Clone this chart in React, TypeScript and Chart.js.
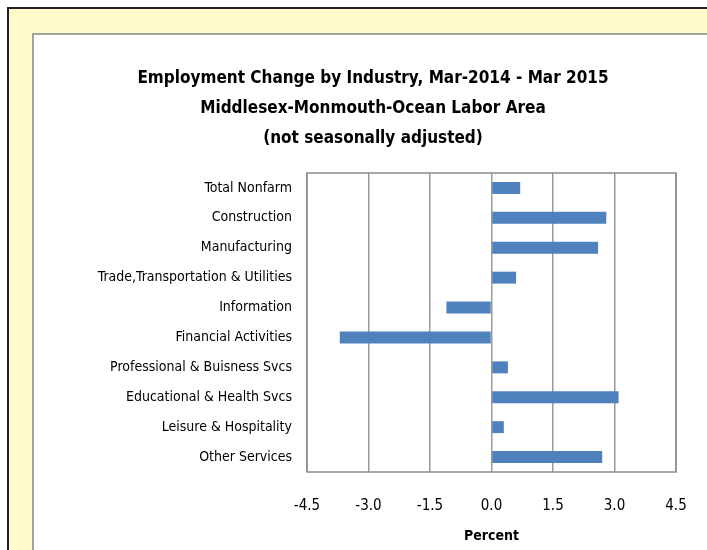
import React, { useEffect, useRef } from "react";
import { Chart, registerables } from "chart.js";

Chart.register(...registerables);

const titleLines = [
  "Employment Change by Industry, Mar-2014 - Mar 2015",
  "Middlesex-Monmouth-Ocean Labor Area",
  "(not seasonally adjusted)",
];
const categories = [
  "Total Nonfarm",
  "Construction",
  "Manufacturing",
  "Trade,Transportation & Utilities",
  "Information",
  "Financial Activities",
  "Professional & Buisness Svcs",
  "Educational & Health Svcs",
  "Leisure & Hospitality",
  "Other Services",
];
const percentChange = [0.7, 2.8, 2.6, 0.6, -1.1, -3.7, 0.4, 3.1, 0.3, 2.7];
const xMin = -4.5;
const xMax = 4.5;
const xStep = 1.5;
const xTitle = "Percent";

const FONT = "'Liberation Sans Narrow', 'DejaVu Sans Condensed', 'Open Sans', sans-serif";

const frameBorder = {
  id: "frameBorder",
  beforeDatasetsDraw(chart: any) {
    const { ctx, chartArea } = chart;
    ctx.save();
    ctx.strokeStyle = "#8c8c8c";
    ctx.lineWidth = 1.5;
    ctx.strokeRect(chartArea.left, chartArea.top, chartArea.right - chartArea.left, chartArea.bottom - chartArea.top);
    ctx.restore();
  },
};

export default function App() {
  const ref = useRef<HTMLCanvasElement>(null);
  useEffect(() => {
    if (!ref.current) return;
    const chart = new Chart(ref.current, {
      type: "bar",
      data: {
        labels: categories,
        datasets: [
          {
            data: percentChange,
            backgroundColor: "#4F81BD",
            barPercentage: 0.4,
            categoryPercentage: 1,
          },
        ],
      },
      plugins: [frameBorder],
      options: {
        indexAxis: "y",
        animation: false,
        responsive: false,
        layout: { padding: { left: 70, right: 31, top: 0, bottom: 0 } },
        plugins: {
          legend: { display: false },
          tooltip: { enabled: false },
          title: {
            display: true,
            text: titleLines,
            color: "#000",
            font: { family: FONT, size: 17, weight: "bold", lineHeight: 30 / 17 },
            padding: { top: 64, bottom: 19 },
          },
        },
        scales: {
          x: {
            min: xMin,
            max: xMax,
            ticks: {
              stepSize: xStep,
              color: "#000",
              font: { family: FONT, size: 15 },
              padding: 25,
              callback: (v: any) => Number(v).toFixed(1),
            },
            grid: { color: "#9a9a9a", lineWidth: 1.5, drawTicks: false },
            border: { display: false },
            title: {
              display: true,
              text: xTitle,
              color: "#000",
              font: { family: FONT, size: 14, weight: "bold" },
              padding: { top: 0, bottom: 5 },
            },
            afterFit: (s: any) => {
              s.height = 78;
              s.paddingLeft = 0;
              s.paddingRight = 0;
            },
          },
          y: {
            ticks: {
              color: "#000",
              font: { family: FONT, size: 14 },
              padding: 15,
            },
            grid: { display: false, drawTicks: false },
            border: { display: false },
            afterFit: (s: any) => {
              s.width = 237;
            },
          },
        },
      },
    });
    return () => chart.destroy();
  }, []);

  return (
    <div style={{ position: "fixed", left: 0, top: 0, width: 707, height: 550, overflow: "hidden", background: "#fff" }}>
      <div
        style={{
          position: "absolute",
          left: 7,
          top: 7,
          width: 800,
          height: 700,
          background: "#FFF9CC",
          borderLeft: "2px solid #231f20",
          borderTop: "2px solid #231f20",
        }}
      />
      <div
        style={{
          position: "absolute",
          left: 32,
          top: 33,
          width: 800,
          height: 700,
          background: "#fff",
          borderLeft: "2px solid #a4a49e",
          borderTop: "2px solid #a4a49e",
        }}
      />
      <canvas ref={ref} width={707} height={550} style={{ position: "absolute", left: 0, top: 0, width: 707, height: 550 }} />
    </div>
  );
}
